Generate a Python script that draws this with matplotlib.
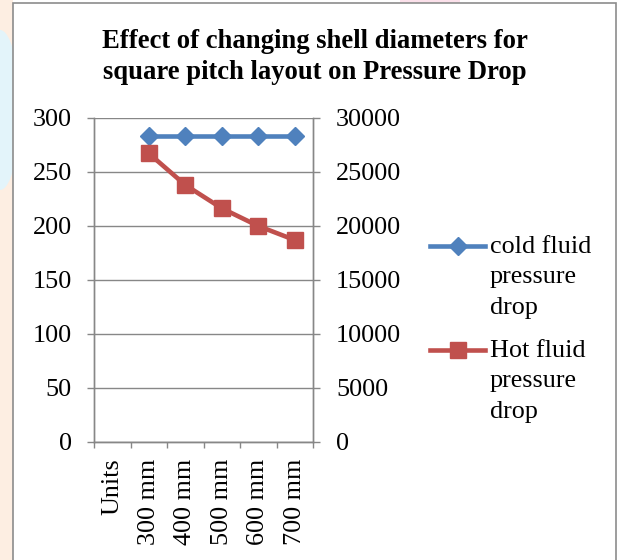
import numpy as np
import matplotlib
matplotlib.use("Agg")
import matplotlib.pyplot as plt
from matplotlib.patches import Rectangle, Ellipse
from matplotlib.lines import Line2D

plt.rcParams['font.family'] = ['Liberation Serif', 'DejaVu Serif']

# data
categories = ["Units", "300 mm", "400 mm", "500 mm", "600 mm", "700 mm"]
cold_drop = [np.nan, 283, 283, 283, 283, 283]            # left axis
hot_drop = [np.nan, 26730, 23800, 21640, 20000, 18700]   # right axis
left_ticks = [0, 50, 100, 150, 200, 250, 300]
right_ticks = [0, 5000, 10000, 15000, 20000, 25000, 30000]
series_names = ["cold fluid\npressure\ndrop", "Hot fluid\npressure\ndrop"]

W, H = 619, 560
FS = 18.8
fig = plt.figure(figsize=(W / 100, H / 100), dpi=100)
fig.patch.set_facecolor("white")

# faint watermark bits around the chart frame
fig.patches.append(Rectangle((0, 0), 13 / W, 1, transform=fig.transFigure,
                             facecolor="#fdeee2", edgecolor="none", zorder=0))
fig.patches.append(Ellipse((0, 1 - 110 / H), 40 / W, 160 / H, transform=fig.transFigure,
                           facecolor="#e3f4fa", edgecolor="none", zorder=0))
fig.patches.append(Rectangle((400 / W, 1 - 4 / H), 60 / W, 4 / H, transform=fig.transFigure,
                             facecolor="#fbe0ea", edgecolor="none", zorder=0))
# chart frame
fig.patches.append(Rectangle((13 / W, -0.01), 603 / W, 1 - 3 / H + 0.01,
                             transform=fig.transFigure, facecolor="white",
                             edgecolor="#8c8c8c", linewidth=1.2, zorder=1))

ax = fig.add_axes([94 / W, 1 - 442 / H, 219 / W, 324 / H])
ax.set_facecolor("none")
ax2 = ax.twinx()
ax.set_zorder(2)
ax2.set_zorder(3)

x = np.arange(len(categories))
blue = "#4F81BD"
red = "#C0504D"
grid_c = "#878787"

ax.plot(x, cold_drop, color=blue, lw=3.3, marker="D", markersize=9,
        markerfacecolor=blue, markeredgecolor=blue, zorder=3)
ax2.plot(x, hot_drop, color=red, lw=3.3, marker="s", markersize=12,
         markerfacecolor=red, markeredgecolor=red, zorder=3)

ax.set_xlim(-0.5, len(categories) - 0.5)
ax.set_ylim(0, 300)
ax2.set_ylim(0, 30000)
ax.set_yticks(left_ticks)
ax2.set_yticks(right_ticks)
ax.yaxis.grid(True, color=grid_c, lw=1.0)
ax.set_axisbelow(True)

# category boundaries as ticks, labels in between
ax.set_xticks(np.arange(-0.5, len(categories), 1.0))
ax.set_xticklabels([])
ax.set_xticks(x, minor=True)
ax.set_xticklabels(categories, minor=True, rotation=90, fontsize=FS, va="top", ha="center")
ax.tick_params(axis="x", which="major", direction="out", length=4, color=grid_c, width=1)
ax.tick_params(axis="x", which="minor", length=0, pad=12)

ax.tick_params(axis="y", direction="out", length=5, color=grid_c, width=1,
               labelsize=FS, pad=11)
ax2.tick_params(axis="y", direction="out", length=5, color=grid_c, width=1,
                labelsize=FS, pad=11.5)

for a in (ax, ax2):
    a.spines["top"].set_visible(False)
    for s in ("left", "right", "bottom"):
        a.spines[s].set_color(grid_c)
        a.spines[s].set_linewidth(1.0)

fig.text(315 / W, 1 - 57 / H, "Effect of changing shell diameters for\nsquare pitch layout on Pressure Drop",
         ha="center", va="center", fontsize=19.2, fontweight="bold", linespacing=1.36)

# legend on the right, handle level with the first line of each name
leg_y = [246, 350]
styles = [(blue, "D", 9), (red, "s", 12)]
for name, y, (c, m, ms) in zip(series_names, leg_y, styles):
    yf = 1 - y / H
    fig.add_artist(Line2D([430 / W, 485 / W], [yf, yf], transform=fig.transFigure,
                          color=c, lw=3.3, zorder=5))
    fig.add_artist(Line2D([457.5 / W], [yf], transform=fig.transFigure, color=c,
                          marker=m, markersize=ms, markerfacecolor=c, markeredgecolor=c, zorder=6))
    fig.text(490 / W, yf + 10 / H, name, ha="left", va="top", fontsize=FS,
             linespacing=1.5, zorder=6)

fig.savefig("out.png", dpi=100)
